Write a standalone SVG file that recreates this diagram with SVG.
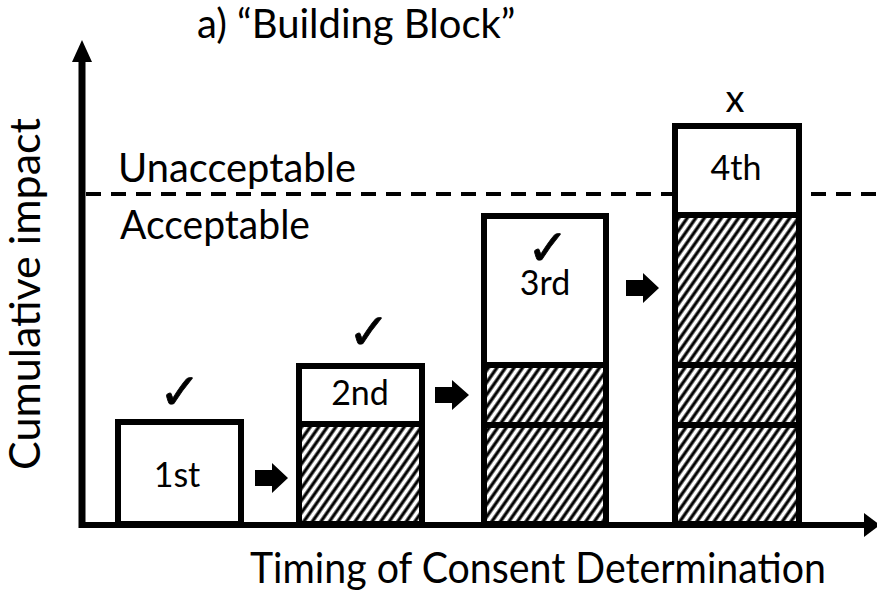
<svg xmlns="http://www.w3.org/2000/svg" width="877" height="596" viewBox="0 0 877 596">
  <style>
    .lbl { font-family: Lato, "Liberation Sans", sans-serif; fill: #000; }
    .big { font-size: 40px; }
    .box { fill: #fff; stroke: #000; stroke-width: 6; }
    .hatch { fill: url(#hatch); stroke: #000; stroke-width: 6; }
    .mark { font-family: "DejaVu Sans", sans-serif; font-size: 50px; fill: #000; stroke: #000; stroke-width: 0.8; text-anchor: middle; }
    .num { font-size: 34px; text-anchor: middle; }
  </style>
  <defs>
    <pattern id="hatch" patternUnits="userSpaceOnUse" width="7" height="10" patternTransform="rotate(35)">
      <rect width="7" height="10" fill="#fff"/>
      <line x1="2" y1="-1" x2="2" y2="11" stroke="#000" stroke-width="3.2"/>
    </pattern>
  </defs>
  <rect width="877" height="596" fill="#fff"/>

  <text class="lbl" x="197" y="38" font-size="40">a) “Building Block”</text>

  <g id="threshold">
    <line x1="86" y1="194" x2="877" y2="194" stroke="#000" stroke-width="4" stroke-dasharray="15 10"/>
    <text class="lbl big" x="118" y="182" textLength="238" lengthAdjust="spacingAndGlyphs">Unacceptable</text>
    <text class="lbl big" x="120" y="239" textLength="190" lengthAdjust="spacingAndGlyphs">Acceptable</text>
  </g>

  <g id="axes">
    <line x1="82" y1="528" x2="82" y2="58" stroke="#000" stroke-width="7"/>
    <polygon points="82,40 72,62 92,62" fill="#000"/>
    <line x1="79" y1="525" x2="866" y2="525" stroke="#000" stroke-width="6"/>
    <polygon points="880,525 864,513 864,537" fill="#000"/>
    <text class="lbl" font-size="42" transform="translate(40,294) rotate(-90)" text-anchor="middle" textLength="352" lengthAdjust="spacingAndGlyphs">Cumulative impact</text>
    <text class="lbl" font-size="42" x="250" y="583" textLength="576" lengthAdjust="spacingAndGlyphs">Timing of Consent Determination</text>
  </g>

  <g id="block1">
    <rect class="box" x="118" y="422" width="123" height="102"/>
    <text class="lbl num" x="177" y="487">1st</text>
    <text class="mark" x="180" y="409">✓</text>
  </g>

  <g id="block2">
    <rect class="hatch" x="299" y="424" width="123" height="100"/>
    <rect class="box" x="299" y="366" width="123" height="58"/>
    <text class="lbl num" x="360" y="405">2nd</text>
    <text class="mark" x="369" y="349">✓</text>
  </g>

  <g id="block3">
    <rect class="hatch" x="484" y="425" width="122" height="99"/>
    <rect class="hatch" x="484" y="365" width="122" height="60"/>
    <rect class="box" x="484" y="216" width="122" height="149"/>
    <text class="lbl num" x="545" y="295">3rd</text>
    <text class="mark" x="548" y="265">✓</text>
  </g>

  <g id="block4">
    <rect class="hatch" x="675" y="425" width="124" height="99"/>
    <rect class="hatch" x="675" y="365" width="124" height="60"/>
    <rect class="hatch" x="675" y="215" width="124" height="150"/>
    <rect class="box" x="675" y="126" width="124" height="89"/>
    <text class="lbl num" x="736" y="180">4th</text>
    <text class="lbl" font-size="38" x="735" y="112" text-anchor="middle">x</text>
  </g>

  <g id="connectors" fill="#000">
    <polygon points="255,470 272,470 272,463 288,478 272,493 272,486 255,486"/>
    <polygon points="435,387 452,387 452,380 469,395 452,410 452,403 435,403"/>
    <polygon points="626,280 643,280 643,273 659,288 643,303 643,296 626,296"/>
  </g>
</svg>
